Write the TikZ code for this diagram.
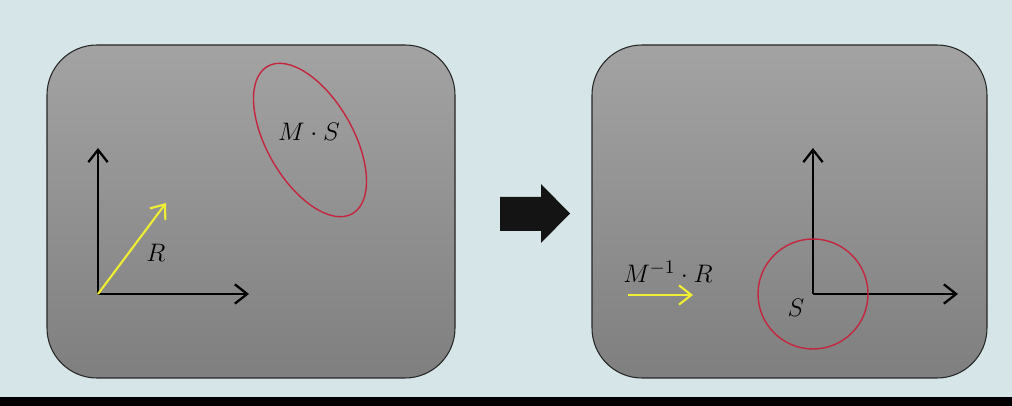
\documentclass[tikz,border=0pt]{standalone}
\usepackage{tikz}
\usepackage{xcolor}
\usetikzlibrary{arrows.meta}
\usetikzlibrary{shapes}
\usetikzlibrary{positioning}

\definecolor{slidebg}{RGB}{214,229,231}
\definecolor{panelhi}{RGB}{163,163,163}
\definecolor{panello}{RGB}{127,127,127}
\definecolor{ringred}{RGB}{196,38,62}
\definecolor{vecyellow}{RGB}{240,238,50}

\tikzset{
  panel/.style={draw=black!85, line width=0.6pt, rounded corners=1cm,
    top color=panelhi, bottom color=panello},
  axis/.style={-{Straight Barb[length=7pt,width=11pt]}, line width=1.3pt, black},
  vec/.style={-{Straight Barb[length=7pt,width=11pt]}, line width=1.2pt, vecyellow},
  ring/.style={draw=ringred, line width=0.8pt},
  lbl/.style={font=\fontsize{15}{17}\selectfont, inner sep=0pt}
}

\begin{document}
\begin{tikzpicture}[x=0.02cm, y=0.02cm]
    \fill[slidebg, use as bounding box] (0,0) rectangle (1012,406);
    \fill[black] (0,0) rectangle (1012,9);

\foreach \a / \b in {47/455, 592/987}
  \draw[panel] (\a,28) rectangle (\b,361);

% axes of both panels
\foreach \n / \ox / \ex in {L/98/249, R/813/958} {
  \coordinate (\n O) at (\ox,112);
  \coordinate (\n X) at (\ex,112);
  \coordinate (\n Y) at (\ox,258);
  \draw[axis] (\n O) -- (\n X);
  \draw[axis] (\n O) -- (\n Y);
}

% left panel
\coordinate (Rtip) at (166,203);
\draw[vec] (LO) -- (Rtip);
\node[lbl] (R) at (156,153) {$R$};
\coordinate (E) at (310,266);
\draw[ring, rotate around={120:(E)}] (E) ellipse [x radius=85, y radius=43];
\node[lbl] (MS) at (309,274) {$M\cdot S$};

% block arrow
\fill[black!92] (500,175) -- (541,175) -- (541,163) -- (570,192.5)
  -- (541,222) -- (541,209) -- (500,209) -- cycle;

% right panel
\draw[ring] (RO) circle [radius=55];
\node[lbl] (S) at (796,98) {$S$};
\coordinate (Va) at (628,111);
\coordinate (Vb) at (693,111);
\draw[vec] (Va) -- (Vb);
\node[lbl] (MR) at (668,134) {$M^{-1}\cdot R$};
\end{tikzpicture}
\end{document}
